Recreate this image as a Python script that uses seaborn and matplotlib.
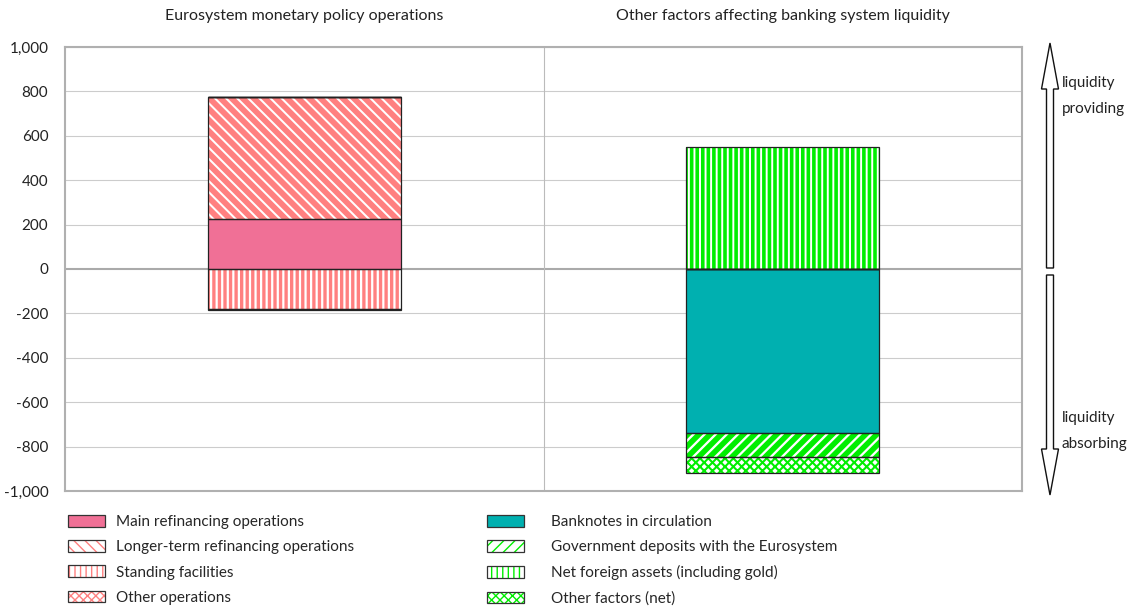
import matplotlib
matplotlib.use("Agg")
import matplotlib.pyplot as plt
from matplotlib.patches import Patch, FancyArrow
import numpy as np
import seaborn as sns

sns.set_theme(style="white")
plt.rcParams['font.family'] = ['Lato', 'DejaVu Sans']

# data (EUR billions)
categories = ["Eurosystem monetary policy operations",
              "Other factors affecting banking system liquidity"]
series = ["Main refinancing operations", "Longer-term refinancing operations",
          "Standing facilities", "Other operations",
          "Banknotes in circulation", "Government deposits with the Eurosystem",
          "Net foreign assets (including gold)", "Other factors (net)"]
values = {
    "Main refinancing operations":             [225, 0],
    "Longer-term refinancing operations":      [552, 0],
    "Standing facilities":                     [-180, 0],
    "Other operations":                        [-3, 0],
    "Banknotes in circulation":                [0, -740],
    "Government deposits with the Eurosystem": [0, -105],
    "Net foreign assets (including gold)":     [0, 548],
    "Other factors (net)":                     [0, -73],
}
yticks = np.arange(-1000, 1001, 200)

pink = "#F07096"
salmon = "#FF8080"
teal = "#00B0B0"
green = "#00EE00"
styles = {
    "Main refinancing operations":             dict(face=pink, hatch=None, hc=pink, hlw=1),
    "Longer-term refinancing operations":      dict(face="white", hatch="\\\\\\", hc=salmon, hlw=4.2),
    "Standing facilities":                     dict(face="white", hatch="|||", hc=salmon, hlw=2.4),
    "Other operations":                        dict(face="white", hatch="xxxx", hc=salmon, hlw=1.2),
    "Banknotes in circulation":                dict(face=teal, hatch=None, hc=teal, hlw=1),
    "Government deposits with the Eurosystem": dict(face="white", hatch="///", hc=green, hlw=4.0),
    "Net foreign assets (including gold)":     dict(face="white", hatch="|||", hc=green, hlw=2.6),
    "Other factors (net)":                     dict(face="white", hatch="xxxx", hc=green, hlw=1.5),
}

fig = plt.figure(figsize=(11.42, 6.07), dpi=100)
ax = fig.add_axes([65 / 1142, 1 - 491 / 607, 957 / 1142, 444 / 607])

x = np.arange(len(categories))
width = 0.403
pos_bottom = np.zeros(len(categories))
neg_bottom = np.zeros(len(categories))
for name in series:
    v = np.array(values[name], dtype=float)
    bottom = np.where(v >= 0, pos_bottom, neg_bottom)
    st = styles[name]
    bars = ax.bar(x, v, width=width, bottom=bottom, color=st["face"],
                  edgecolor=st["hc"], hatch=st["hatch"], linewidth=0, zorder=3)
    for b in bars:
        if hasattr(b, "set_hatch_linewidth"):
            b.set_hatch_linewidth(st["hlw"])
    ax.bar(x, v, width=width, bottom=bottom, fill=False,
           edgecolor="#222222", linewidth=0.9, zorder=4)
    pos_bottom += np.where(v > 0, v, 0)
    neg_bottom += np.where(v < 0, v, 0)

ax.set_xlim(-0.5, 1.5)
ax.set_ylim(-1000, 1000)
ax.set_yticks(yticks)
ax.set_yticklabels([f"{t:,}" for t in yticks], fontsize=11, color="#222222")
ax.set_xticks(x)
ax.set_xticklabels(categories, fontsize=11.5, color="#222222")
ax.xaxis.tick_top()
ax.tick_params(axis="x", length=0, pad=17)
ax.tick_params(axis="y", length=0, pad=12)
for t in yticks:
    ax.axhline(t, color="#cccccc" if t != 0 else "#aaaaaa",
               lw=0.8 if t != 0 else 1.5, zorder=1)
ax.axvline(0.5, color="#bbbbbb", lw=0.8, zorder=1)
for s in ax.spines.values():
    s.set_color("#b0b0b0")
    s.set_linewidth(1.5)

# legends: hatched patch with a dark outline on top
def handles(names):
    hs = []
    for n in names:
        st = styles[n]
        fill = Patch(facecolor=st["face"], edgecolor=st["hc"],
                     hatch=st["hatch"], linewidth=0)
        if hasattr(fill, "set_hatch_linewidth"):
            fill.set_hatch_linewidth(min(st["hlw"], 2.5))
        edge = Patch(fill=False, edgecolor="#333333", linewidth=0.9)
        hs.append((fill, edge))
    return hs

left_names = series[:4]
right_names = series[4:]
leg_kw = dict(loc="upper left", frameon=False, fontsize=11, handlelength=2.4,
              handleheight=0.8, labelspacing=0.72, borderaxespad=0)
fig.legend(handles(left_names), left_names,
           bbox_to_anchor=(62 / 1142, 1 - 509 / 607), handletextpad=0.75, **leg_kw)
fig.legend(handles(right_names), right_names,
           bbox_to_anchor=(481 / 1142, 1 - 509 / 607), handletextpad=1.8, **leg_kw)

# liquidity arrows on the right (pixel overlay)
ov = fig.add_axes([0, 0, 1, 1], zorder=-1)
ov.set_xlim(0, 1142)
ov.set_ylim(607, 0)
ov.axis("off")
ov.add_patch(FancyArrow(1050, 268, 0, -225, width=7, head_width=17,
                        head_length=46, length_includes_head=True,
                        facecolor="white", edgecolor="#111111", lw=1))
ov.add_patch(FancyArrow(1050, 275, 0, 220, width=7, head_width=17,
                        head_length=46, length_includes_head=True,
                        facecolor="white", edgecolor="#111111", lw=1))
for yy, txt in [(83, "liquidity"), (109, "providing"),
                (418, "liquidity"), (444, "absorbing")]:
    ov.text(1062, yy, txt, fontsize=11, color="#222222", va="center", ha="left")

fig.savefig("out.png", dpi=100)
